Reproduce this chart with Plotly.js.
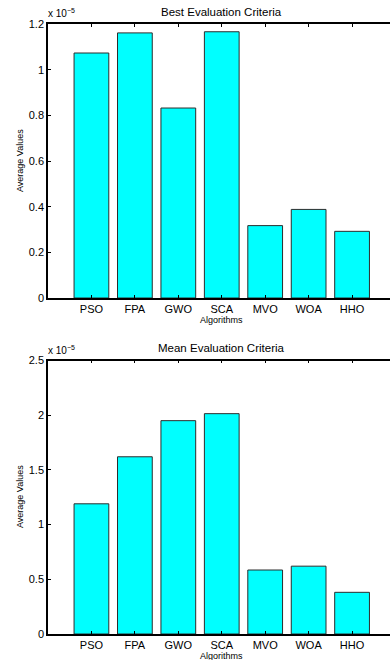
<!DOCTYPE html>
<html>
<head>
<meta charset="utf-8">
<script src="https://cdn.plot.ly/plotly-3.0.1.min.js"></script>
<style>
html,body{margin:0;padding:0;overflow:hidden;background:#fff;width:390px;height:660px;}
#chart{width:390px;height:660px;}
</style>
</head>
<body>
<div id="chart"></div>
<script>
// Data (values in units of 1e-5)
const algorithms = ["PSO", "FPA", "GWO", "SCA", "MVO", "WOA", "HHO"];
const bestValues = [1.073, 1.161, 0.832, 1.166, 0.317, 0.388, 0.292];
const meanValues = [1.19, 1.62, 1.95, 2.014, 0.585, 0.62, 0.381];
const bestTicks = [0, 0.2, 0.4, 0.6, 0.8, 1, 1.2];
const meanTicks = [0, 0.5, 1, 1.5, 2, 2.5];
const scaleLabel = "x 10<sup>−5</sup>";
const titles = ["Best Evaluation Criteria", "Mean Evaluation Criteria"];

const FONT = "Liberation Sans, Arial, Helvetica, sans-serif";
const H = 660, W = 390;
const barStyle = {color: "#00FFFF", line: {color: "rgb(45,45,45)", width: 1}};

const traces = [
  {type: "bar", x: algorithms, y: bestValues, marker: barStyle, xaxis: "x", yaxis: "y", hoverinfo: "x+y"},
  {type: "bar", x: algorithms, y: meanValues, marker: barStyle, xaxis: "x2", yaxis: "y2", hoverinfo: "x+y"}
];

// axis spans 0..8 in MATLAB units over 48..395.5 px; page cuts at 390
const pxPerCat = (395.5 - 48) / 8;
const xDom = [48 / W, 1];
const xRange = [-1, -1 + (W - 48) / pxPerCat];
const topDom = [1 - 298 / H, 1 - 24 / H];
const botDom = [1 - 634 / H, 1 - 360.5 / H];
const titleX = (48 + 395.5) / 2 / W;

function xaxis(anchor) {
  return {
    domain: xDom, anchor: anchor, type: "category", range: xRange,
    showline: true, mirror: "ticks", linecolor: "#000", linewidth: 1.5,
    ticks: "inside", ticklen: 3, tickcolor: "#000", tickwidth: 1,
    showgrid: false, zeroline: false, fixedrange: true,
    tickfont: {family: FONT, size: 11, color: "#000"}
  };
}
function yaxis(anchor, dom, range, ticks) {
  return {
    domain: dom, anchor: anchor, range: range, tickvals: ticks,
    showline: true, mirror: false, linecolor: "#000", linewidth: 1.5,
    ticks: "inside", ticklen: 3, tickcolor: "#000", tickwidth: 1,
    showgrid: false, zeroline: false, fixedrange: true,
    tickfont: {family: FONT, size: 11, color: "#000"}
  };
}

function ann(text, x, yPx, xa, ya, size, angle) {
  return {text: text, xref: "paper", yref: "paper", x: x, y: 1 - yPx / H,
    xanchor: xa, yanchor: ya, showarrow: false, textangle: angle || 0,
    font: {family: FONT, size: size, color: "#000"}};
}

const layout = {
  width: W, height: H,
  margin: {l: 0, r: 0, t: 0, b: 0, pad: 0},
  paper_bgcolor: "#fff", plot_bgcolor: "#fff",
  showlegend: false, bargap: 0.2,
  xaxis: xaxis("y"),
  yaxis: yaxis("x", topDom, [0, 1.2], bestTicks),
  xaxis2: xaxis("y2"),
  yaxis2: yaxis("x2", botDom, [0, 2.5], meanTicks),
  annotations: [
    ann(titles[0], titleX, 11.5, "center", "middle", 11.5),
    ann(titles[1], titleX, 347.5, "center", "middle", 11.5),
    ann(scaleLabel, 46 / W, 21, "left", "bottom", 10),
    ann(scaleLabel, 46 / W, 357.5, "left", "bottom", 10),
    ann("Algorithms", titleX, 320, "center", "middle", 9),
    ann("Algorithms", titleX, 656, "center", "middle", 9),
    ann("Average Values", 20 / W, 161, "center", "middle", 9, -90),
    ann("Average Values", 20 / W, 497, "center", "middle", 9, -90)
  ]
};

Plotly.newPlot("chart", traces, layout, {displayModeBar: false});
</script>
</body>
</html>
